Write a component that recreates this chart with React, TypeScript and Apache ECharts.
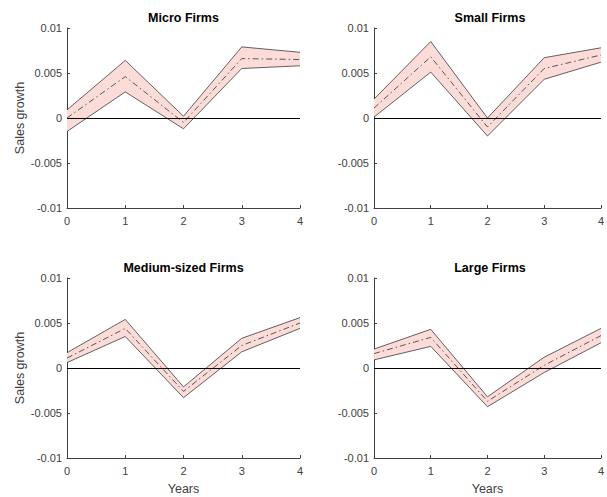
import React, { useEffect, useRef } from "react";
import * as echarts from "echarts";

const years = ["0", "1", "2", "3", "4"];
const panelTitles = ["Micro Firms", "Small Firms", "Medium-sized Firms", "Large Firms"];

const microUpper = [0.0009, 0.0064, 0.0002, 0.0079, 0.0073];
const microMean = [0.0000, 0.0046, -0.0005, 0.0066, 0.0065];
const microLower = [-0.0015, 0.0029, -0.0012, 0.0055, 0.0058];

const smallUpper = [0.0021, 0.0085, 0.0000, 0.0067, 0.0078];
const smallMean = [0.0011, 0.0068, -0.0010, 0.0055, 0.0070];
const smallLower = [0.0001, 0.0051, -0.0020, 0.0043, 0.0062];

const mediumUpper = [0.0017, 0.0054, -0.0021, 0.0033, 0.0056];
const mediumMean = [0.0011, 0.0044, -0.0026, 0.0025, 0.0050];
const mediumLower = [0.0006, 0.0035, -0.0033, 0.0018, 0.0044];

const largeUpper = [0.0021, 0.0043, -0.0032, 0.0012, 0.0044];
const largeMean = [0.0016, 0.0034, -0.0037, 0.0003, 0.0036];
const largeLower = [0.0009, 0.0024, -0.0043, -0.0005, 0.0028];

const panels = [
  { upper: microUpper, mean: microMean, lower: microLower },
  { upper: smallUpper, mean: smallMean, lower: smallLower },
  { upper: mediumUpper, mean: mediumMean, lower: mediumLower },
  { upper: largeUpper, mean: largeMean, lower: largeLower },
];

const FONT = "Liberation Sans";

export default function App() {
  const ref = useRef<HTMLDivElement>(null);
  useEffect(() => {
    if (!ref.current) return;
    const chart = echarts.init(ref.current, null, { renderer: "svg" });
    const gridRects = [
      { left: 67, top: 28, width: 233, height: 180 },
      { left: 374, top: 28, width: 232, height: 180 },
      { left: 67, top: 278, width: 233, height: 180 },
      { left: 374, top: 278, width: 232, height: 180 },
    ];
    const fmt = (v: number) => String(Math.round(v * 1000) / 1000);
    const grids = gridRects.map((g) => ({ ...g, containLabel: false }));
    const xAxes = gridRects.map((_, i) => ({
      type: "category",
      data: years,
      boundaryGap: false,
      gridIndex: i,
      name: i >= 2 ? "Years" : "",
      nameLocation: "middle",
      nameGap: 24,
      nameTextStyle: { fontFamily: FONT, fontSize: 12.5, color: "#404040" },
      axisLine: { show: true, onZero: false, lineStyle: { color: "#404040", width: 1 } },
      axisTick: { show: true, inside: true, length: 3, lineStyle: { color: "#404040" } },
      axisLabel: { fontFamily: FONT, fontSize: 11, color: "#404040", margin: 7 },
      splitLine: { show: false },
    }));
    const yAxes = gridRects.map((_, i) => ({
      type: "value",
      gridIndex: i,
      min: -0.01,
      max: 0.01,
      interval: 0.005,
      name: i % 2 === 0 ? "Sales growth" : "",
      nameLocation: "middle",
      nameGap: 41,
      nameTextStyle: { fontFamily: FONT, fontSize: 12.5, color: "#404040" },
      axisLine: { show: true, lineStyle: { color: "#404040", width: 1 } },
      axisTick: { show: true, inside: true, length: 3, lineStyle: { color: "#404040" } },
      axisLabel: { fontFamily: FONT, fontSize: 11, color: "#404040", margin: 5, formatter: fmt },
      splitLine: { show: false },
    }));
    const series: any[] = [];
    panels.forEach((p, i) => {
      const stack = "band" + i;
      series.push({
        type: "line",
        xAxisIndex: i,
        yAxisIndex: i,
        stack,
        stackStrategy: "all",
        data: p.lower,
        symbol: "none",
        lineStyle: { color: "#222", width: 0.7 },
        z: 3,
      });
      series.push({
        type: "line",
        xAxisIndex: i,
        yAxisIndex: i,
        stack,
        stackStrategy: "all",
        data: p.upper.map((u, k) => u - p.lower[k]),
        symbol: "none",
        lineStyle: { color: "#222", width: 0.7 },
        areaStyle: { color: "#fcdcd8", opacity: 1 },
        z: 2,
      });
      series.push({
        type: "line",
        xAxisIndex: i,
        yAxisIndex: i,
        data: p.mean,
        symbol: "none",
        lineStyle: { color: "#333", width: 0.8, type: [6, 3, 1.5, 3] },
        z: 4,
        markLine: {
          silent: true,
          symbol: "none",
          label: { show: false },
          lineStyle: { color: "#000", width: 1, type: "solid" },
          data: [{ yAxis: 0 }],
        },
      });
    });
    const titles = gridRects.map((g, i) => ({
      type: "text",
      x: g.left + g.width / 2,
      y: g.top - 10.5,
      style: {
        text: panelTitles[i],
        textAlign: "center",
        textVerticalAlign: "middle",
        font: `bold 12.5px ${FONT}`,
        fill: "#000",
      },
    }));
    chart.setOption({
      animation: false,
      backgroundColor: "#fff",
      grid: grids,
      xAxis: xAxes,
      yAxis: yAxes,
      series,
      graphic: titles,
    });
    return () => chart.dispose();
  }, []);
  return <div ref={ref} style={{ width: 607, height: 497, position: "absolute", left: 0, top: 0 }} />;
}
